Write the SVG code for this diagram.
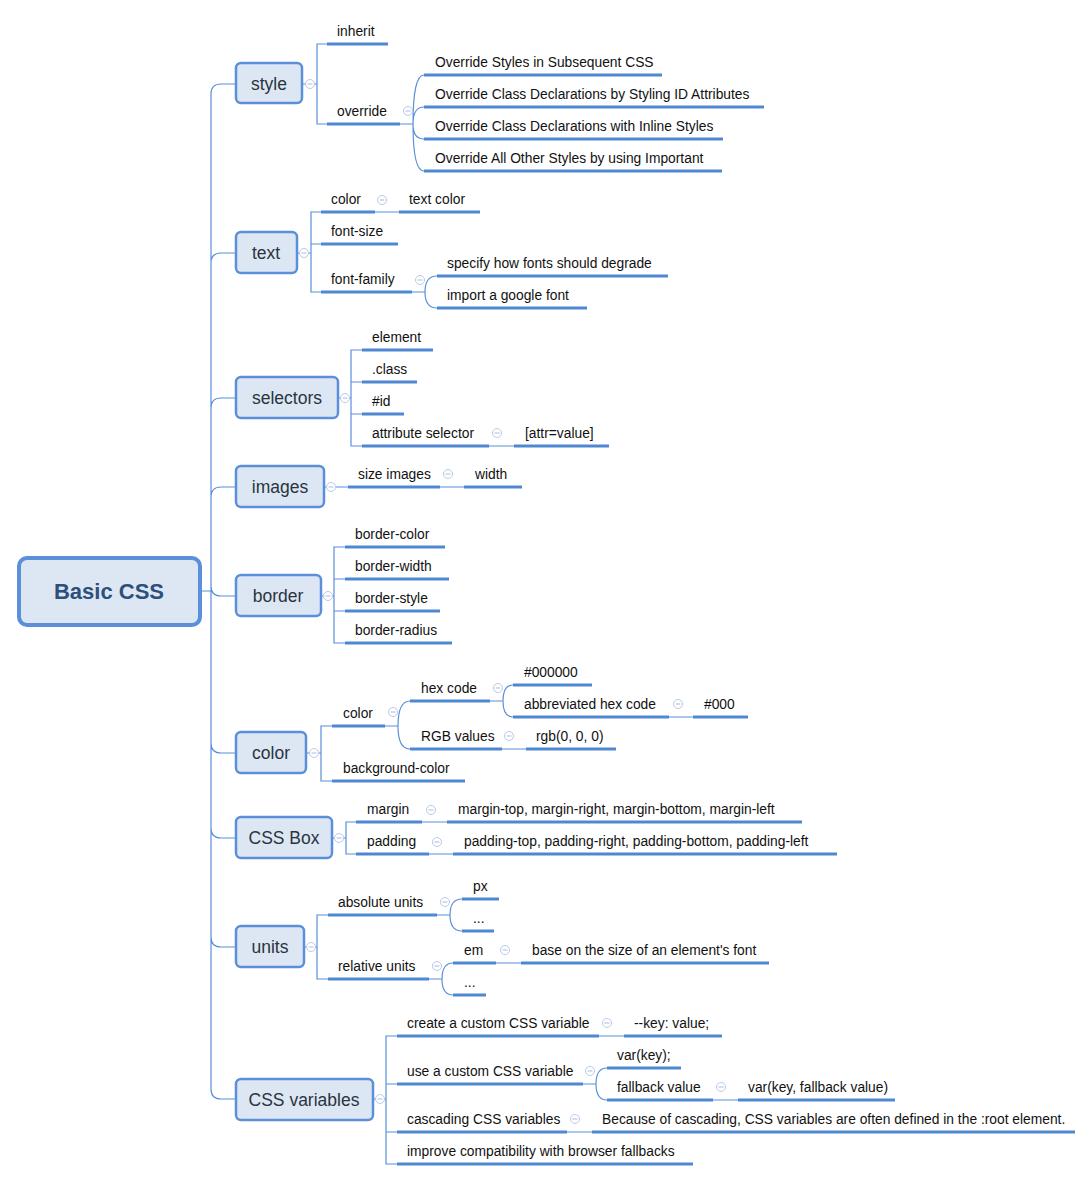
<svg xmlns="http://www.w3.org/2000/svg" xmlns:xlink="http://www.w3.org/1999/xlink" width="1092" height="1181" viewBox="0 0 1092 1181">
<style>
.ln{fill:none;stroke:#5b8fd9;stroke-width:1.2}
.ul{stroke:#4f87d3;stroke-width:3}
.n1{fill:#dde7f3;stroke:#5b8fd9;stroke-width:2.5}
.root{fill:#dde7f3;stroke:#5b8fd9;stroke-width:4}
.t0{font-family:"Liberation Sans",Arial,sans-serif;font-size:22px;font-weight:bold;fill:#2d4f7c}
.t1{font-family:"Liberation Sans",Arial,sans-serif;font-size:17.5px;fill:#2a3440}
.t2{font-family:"Liberation Sans",Arial,sans-serif;font-size:13.8px;fill:#111}
</style>
<defs>
<g id="mk"><circle r="4.5" fill="#fff" stroke="#b9c9ea" stroke-width="1"/><line x1="-2.5" y1="0" x2="2.5" y2="0" stroke="#a9bce3" stroke-width="1"/></g>
</defs>
<rect width="1092" height="1181" fill="#fff"/>
<g id="connectors">
<path class="ln" d="M201 591H211M211 94V1089M211 94Q211 84 221 84H236M211 263Q211 253 221 253H236M211 408Q211 398 221 398H236M211 497Q211 487 221 487H236M211 586Q211 596 221 596H236M211 743Q211 753 221 753H236M211 828Q211 838 221 838H236M211 937Q211 947 221 947H236M211 1089Q211 1099 221 1099H236"/>
<path class="ln" d="M303 84H317M327 44H317V124H327M400 124H413M413 124Q413 75 424 75M413 124Q413 107 424 107M413 124Q413 139 424 139M413 124Q413 171 424 171"/>
<path class="ln" d="M297 253H311M321 212H311V292H321M311 244H321M375 212H399M412 292H425M425 292Q425 276 437 276M425 292Q425 308 437 308"/>
<path class="ln" d="M338 398H351M362 350H351V446H362M351 382H362M351 414H362M489 446H514"/>
<path class="ln" d="M324 487H348M440 487H464"/>
<path class="ln" d="M321 596H334M345 547H334V643H345M334 579H345M334 611H345"/>
<path class="ln" d="M306 753H321M332 726H321V781H332M385 726H398M398 726Q398 701 410 701M398 726Q398 749 410 749M490 701H503M503 701Q503 685 513 685M503 701Q503 717 513 717M669 717H693M502 749H526"/>
<path class="ln" d="M332 838H346M356 822H346V854H356M422 822H447M429 854H453"/>
<path class="ln" d="M304 947H317M328 915H317V979H328M437 915H450M450 915Q450 899 462 899M450 915Q450 931 462 931M429 979H442M442 979Q442 963 453 963M442 979Q442 995 453 995M496 963H521"/>
<path class="ln" d="M373 1099H386M397 1036H386V1164H397M386 1084H397M386 1132H397M599 1036H624M583 1084H596M596 1084Q596 1068 607 1068M596 1084Q596 1100 607 1100M713 1100H738M567 1132H592"/>
</g>
<g id="root">
<rect class="root" x="19" y="558" width="181" height="67" rx="8"/>
<text class="t0" x="109" y="599" text-anchor="middle">Basic CSS</text>
</g>
<g id="style">
<rect class="n1" x="236" y="63" width="66" height="40" rx="5"/>
<text class="t1" x="269" y="90" text-anchor="middle">style</text>
<use xlink:href="#mk" x="310" y="84"/>
<line class="ul" x1="327" y1="44" x2="388" y2="44"/><text class="t2" x="337" y="36">inherit</text>
<line class="ul" x1="327" y1="124" x2="400" y2="124"/><text class="t2" x="337" y="116">override</text>
<use xlink:href="#mk" x="408" y="111"/>
<line class="ul" x1="424" y1="75" x2="662" y2="75"/><text class="t2" x="435" y="67">Override Styles in Subsequent CSS</text>
<line class="ul" x1="424" y1="107" x2="764" y2="107"/><text class="t2" x="435" y="99">Override Class Declarations by Styling ID Attributes</text>
<line class="ul" x1="424" y1="139" x2="723" y2="139"/><text class="t2" x="435" y="131">Override Class Declarations with Inline Styles</text>
<line class="ul" x1="424" y1="171" x2="722" y2="171"/><text class="t2" x="435" y="163">Override All Other Styles by using Important</text>
</g>
<g id="text">
<rect class="n1" x="236" y="232" width="61" height="41" rx="5"/>
<text class="t1" x="266" y="259" text-anchor="middle">text</text>
<use xlink:href="#mk" x="304" y="253"/>
<line class="ul" x1="321" y1="212" x2="375" y2="212"/><text class="t2" x="331" y="204">color</text>
<use xlink:href="#mk" x="382" y="200"/>
<line class="ul" x1="399" y1="212" x2="480" y2="212"/><text class="t2" x="409" y="204">text color</text>
<line class="ul" x1="321" y1="244" x2="398" y2="244"/><text class="t2" x="331" y="236">font-size</text>
<line class="ul" x1="321" y1="292" x2="412" y2="292"/><text class="t2" x="331" y="284">font-family</text>
<use xlink:href="#mk" x="420" y="280"/>
<line class="ul" x1="437" y1="276" x2="668" y2="276"/><text class="t2" x="447" y="268">specify how fonts should degrade</text>
<line class="ul" x1="437" y1="308" x2="587" y2="308"/><text class="t2" x="447" y="300">import a google font</text>
</g>
<g id="selectors">
<rect class="n1" x="236" y="377" width="102" height="41" rx="5"/>
<text class="t1" x="287" y="404" text-anchor="middle">selectors</text>
<use xlink:href="#mk" x="345" y="398"/>
<line class="ul" x1="362" y1="350" x2="433" y2="350"/><text class="t2" x="372" y="342">element</text>
<line class="ul" x1="362" y1="382" x2="417" y2="382"/><text class="t2" x="372" y="374">.class</text>
<line class="ul" x1="362" y1="414" x2="404" y2="414"/><text class="t2" x="372" y="406">#id</text>
<line class="ul" x1="362" y1="446" x2="489" y2="446"/><text class="t2" x="372" y="438">attribute selector</text>
<use xlink:href="#mk" x="497" y="433"/>
<line class="ul" x1="514" y1="446" x2="609" y2="446"/><text class="t2" x="525" y="438">[attr=value]</text>
</g>
<g id="images">
<rect class="n1" x="236" y="466" width="88" height="41" rx="5"/>
<text class="t1" x="280" y="493" text-anchor="middle">images</text>
<use xlink:href="#mk" x="331" y="487"/>
<line class="ul" x1="348" y1="487" x2="440" y2="487"/><text class="t2" x="358" y="479">size images</text>
<use xlink:href="#mk" x="448" y="474"/>
<line class="ul" x1="464" y1="487" x2="522" y2="487"/><text class="t2" x="475" y="479">width</text>
</g>
<g id="border">
<rect class="n1" x="236" y="575" width="85" height="41" rx="5"/>
<text class="t1" x="278" y="602" text-anchor="middle">border</text>
<use xlink:href="#mk" x="328" y="596"/>
<line class="ul" x1="345" y1="547" x2="445" y2="547"/><text class="t2" x="355" y="539">border-color</text>
<line class="ul" x1="345" y1="579" x2="449" y2="579"/><text class="t2" x="355" y="571">border-width</text>
<line class="ul" x1="345" y1="611" x2="440" y2="611"/><text class="t2" x="355" y="603">border-style</text>
<line class="ul" x1="345" y1="643" x2="452" y2="643"/><text class="t2" x="355" y="635">border-radius</text>
</g>
<g id="color">
<rect class="n1" x="236" y="732" width="70" height="41" rx="5"/>
<text class="t1" x="271" y="759" text-anchor="middle">color</text>
<use xlink:href="#mk" x="314" y="753"/>
<line class="ul" x1="332" y1="726" x2="385" y2="726"/><text class="t2" x="343" y="718">color</text>
<use xlink:href="#mk" x="393" y="712"/>
<line class="ul" x1="410" y1="701" x2="490" y2="701"/><text class="t2" x="421" y="693">hex code</text>
<use xlink:href="#mk" x="498" y="688"/>
<line class="ul" x1="513" y1="685" x2="592" y2="685"/><text class="t2" x="524" y="677">#000000</text>
<line class="ul" x1="513" y1="717" x2="669" y2="717"/><text class="t2" x="524" y="709">abbreviated hex code</text>
<use xlink:href="#mk" x="678" y="704"/>
<line class="ul" x1="693" y1="717" x2="748" y2="717"/><text class="t2" x="704" y="709">#000</text>
<line class="ul" x1="410" y1="749" x2="502" y2="749"/><text class="t2" x="421" y="741">RGB values</text>
<use xlink:href="#mk" x="509" y="736"/>
<line class="ul" x1="526" y1="749" x2="616" y2="749"/><text class="t2" x="536" y="741">rgb(0, 0, 0)</text>
<line class="ul" x1="332" y1="781" x2="465" y2="781"/><text class="t2" x="343" y="773">background-color</text>
</g>
<g id="cssbox">
<rect class="n1" x="236" y="817" width="96" height="41" rx="5"/>
<text class="t1" x="284" y="844" text-anchor="middle">CSS Box</text>
<use xlink:href="#mk" x="339" y="838"/>
<line class="ul" x1="356" y1="822" x2="422" y2="822"/><text class="t2" x="367" y="814">margin</text>
<use xlink:href="#mk" x="431" y="810"/>
<line class="ul" x1="447" y1="822" x2="802" y2="822"/><text class="t2" x="458" y="814">margin-top, margin-right, margin-bottom, margin-left</text>
<line class="ul" x1="356" y1="854" x2="429" y2="854"/><text class="t2" x="367" y="846">padding</text>
<use xlink:href="#mk" x="437" y="842"/>
<line class="ul" x1="453" y1="854" x2="837" y2="854"/><text class="t2" x="464" y="846">padding-top, padding-right, padding-bottom, padding-left</text>
</g>
<g id="units">
<rect class="n1" x="236" y="926" width="68" height="41" rx="5"/>
<text class="t1" x="270" y="953" text-anchor="middle">units</text>
<use xlink:href="#mk" x="311" y="947"/>
<line class="ul" x1="328" y1="915" x2="437" y2="915"/><text class="t2" x="338" y="907">absolute units</text>
<use xlink:href="#mk" x="445" y="902"/>
<line class="ul" x1="462" y1="899" x2="499" y2="899"/><text class="t2" x="473" y="891">px</text>
<line class="ul" x1="462" y1="931" x2="494" y2="931"/><text class="t2" x="473" y="923">...</text>
<line class="ul" x1="328" y1="979" x2="429" y2="979"/><text class="t2" x="338" y="971">relative units</text>
<use xlink:href="#mk" x="437" y="966"/>
<line class="ul" x1="453" y1="963" x2="496" y2="963"/><text class="t2" x="464" y="955">em</text>
<use xlink:href="#mk" x="505" y="950"/>
<line class="ul" x1="521" y1="963" x2="769" y2="963"/><text class="t2" x="532" y="955">base on the size of an element's font</text>
<line class="ul" x1="453" y1="995" x2="486" y2="995"/><text class="t2" x="464" y="987">...</text>
</g>
<g id="cssvariables">
<rect class="n1" x="236" y="1079" width="137" height="41" rx="5"/>
<text class="t1" x="304" y="1106" text-anchor="middle">CSS variables</text>
<use xlink:href="#mk" x="380" y="1099"/>
<line class="ul" x1="397" y1="1036" x2="599" y2="1036"/><text class="t2" x="407" y="1028">create a custom CSS variable</text>
<use xlink:href="#mk" x="607" y="1023"/>
<line class="ul" x1="624" y1="1036" x2="722" y2="1036"/><text class="t2" x="634" y="1028">--key: value;</text>
<line class="ul" x1="397" y1="1084" x2="583" y2="1084"/><text class="t2" x="407" y="1076">use a custom CSS variable</text>
<use xlink:href="#mk" x="590" y="1071"/>
<line class="ul" x1="607" y1="1068" x2="681" y2="1068"/><text class="t2" x="617" y="1060">var(key);</text>
<line class="ul" x1="607" y1="1100" x2="713" y2="1100"/><text class="t2" x="617" y="1092">fallback value</text>
<use xlink:href="#mk" x="721" y="1087"/>
<line class="ul" x1="738" y1="1100" x2="895" y2="1100"/><text class="t2" x="748" y="1092">var(key, fallback value)</text>
<line class="ul" x1="397" y1="1132" x2="567" y2="1132"/><text class="t2" x="407" y="1124">cascading CSS variables</text>
<use xlink:href="#mk" x="575" y="1119"/>
<line class="ul" x1="592" y1="1132" x2="1075" y2="1132"/><text class="t2" x="602" y="1124">Because of cascading, CSS variables are often defined in the :root element.</text>
<line class="ul" x1="397" y1="1164" x2="693" y2="1164"/><text class="t2" x="407" y="1156">improve compatibility with browser fallbacks</text>
</g>
</svg>
